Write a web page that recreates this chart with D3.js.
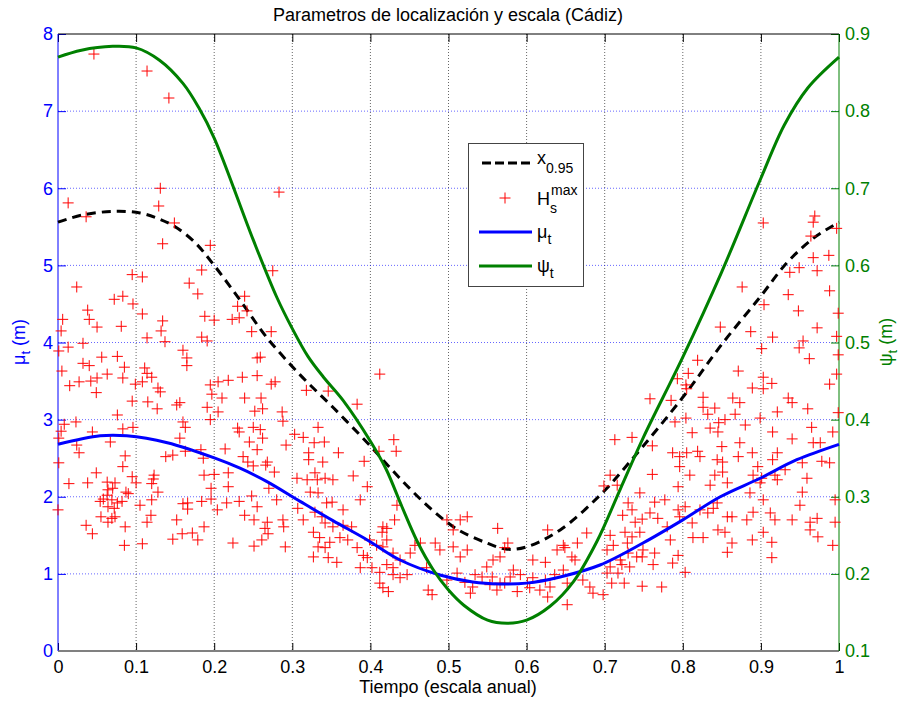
<!DOCTYPE html>
<meta charset="utf-8">
<style>
body { margin: 0; background: #fff; }
text { font-family: "Liberation Sans", Arial, sans-serif; }
</style>
<body>
<script src="https://d3js.org/d3.v7.min.js"></script>
<script>
// tick values
var xTicks = [0, 0.1, 0.2, 0.3, 0.4, 0.5, 0.6, 0.7, 0.8, 0.9, 1];
var muTicks = [0, 1, 2, 3, 4, 5, 6, 7, 8];
var psiTicks = [0.1, 0.2, 0.3, 0.4, 0.5, 0.6, 0.7, 0.8, 0.9];

// psi_t (right axis)
var psiT = [0, 0.03, 0.07, 0.10, 0.13, 0.16, 0.18, 0.20, 0.25, 0.28, 0.30, 0.32, 0.34, 0.365, 0.40, 0.42, 0.44, 0.46, 0.48, 0.50, 0.52, 0.55, 0.575, 0.60, 0.63, 0.66, 0.69, 0.72, 0.75, 0.80, 0.85, 0.90, 0.93, 0.96, 1.0];
var psiV = [0.870, 0.879, 0.884, 0.882, 0.866, 0.836, 0.805, 0.765, 0.633, 0.559, 0.518, 0.482, 0.455, 0.425, 0.372, 0.336, 0.288, 0.242, 0.206, 0.179, 0.159, 0.140, 0.136, 0.140, 0.158, 0.190, 0.242, 0.310, 0.378, 0.481, 0.592, 0.713, 0.782, 0.830, 0.870];

// x_0.95 (left axis)
var xqT = [0, 0.03, 0.07, 0.105, 0.13, 0.15, 0.175, 0.20, 0.233, 0.267, 0.31, 0.352, 0.396, 0.423, 0.451, 0.48, 0.511, 0.549, 0.575, 0.60, 0.643, 0.694, 0.732, 0.80, 0.851, 0.899, 0.933, 0.967, 1.0];
var xqV = [5.56, 5.65, 5.70, 5.68, 5.60, 5.50, 5.30, 5.00, 4.55, 4.07, 3.58, 3.16, 2.70, 2.40, 2.10, 1.82, 1.58, 1.40, 1.32, 1.35, 1.57, 2.02, 2.45, 3.29, 3.99, 4.59, 5.03, 5.35, 5.56];

// mu_t (left axis)
var muT = [0, 0.054, 0.088, 0.14, 0.201, 0.233, 0.267, 0.31, 0.352, 0.396, 0.438, 0.489, 0.531, 0.566, 0.60, 0.643, 0.694, 0.749, 0.80, 0.848, 0.899, 0.946, 1.0];
var muV = [2.68, 2.79, 2.79, 2.70, 2.50, 2.37, 2.20, 1.94, 1.69, 1.44, 1.18, 0.985, 0.895, 0.87, 0.88, 0.96, 1.115, 1.40, 1.70, 2.00, 2.24, 2.48, 2.68];

// Hs max observations [t, H]
var hsMax = [
[0.046,7.74],[0.114,7.52],[0.142,7.17],[0.013,5.81],[0.036,5.63],[0.131,6.00],[0.129,5.77],[0.149,5.55],[0.283,5.95],
[0.903,5.55],[0.969,5.64],[0.967,5.56],[0.997,5.48],[0.964,5.38],
[0.134,5.28],[0.195,5.26],[0.095,4.88],[0.108,4.85],[0.184,4.94],[0.275,4.93],[0.024,4.72],[0.168,4.77],[0.179,4.63],
[0.072,4.56],[0.083,4.60],[0.096,4.50],[0.038,4.42],[0.239,4.60],[0.230,4.47],[0.242,4.41],[0.108,4.37],[0.006,4.30],
[0.040,4.30],[0.134,4.28],[0.188,4.34],[0.200,4.29],[0.223,4.30],[0.232,4.32],[0.050,4.20],[0.004,4.15],[0.081,4.21],
[0.132,4.15],[0.114,4.06],[0.137,4.01],[0.184,4.07],[0.191,4.02],[0.248,4.14],[0.273,4.14],[0.032,3.99],[0.013,3.94],
[0.001,3.89],[0.160,3.90],[0.056,3.81],[0.076,3.82],[0.165,3.80],[0.255,3.80],[0.259,3.81],[0.032,3.73],[0.040,3.70],
[0.085,3.68],[0.165,3.70],[0.005,3.63],[0.063,3.59],[0.111,3.67],[0.114,3.60],[0.120,3.55],[0.050,3.54],[0.042,3.50],
[0.083,3.54],[0.236,3.55],[0.255,3.57],[0.278,3.49],[0.015,3.44],[0.027,3.49],[0.099,3.46],[0.108,3.49],[0.195,3.45],
[0.205,3.49],[0.218,3.51],[0.128,3.41],[0.131,3.36],[0.273,3.46],[0.049,3.35],[0.197,3.33],[0.210,3.28],[0.239,3.28],
[0.260,3.28],[0.095,3.24],[0.115,3.23],[0.156,3.22],[0.152,3.19],[0.127,3.14],[0.191,3.16],[0.262,3.14],[0.252,3.11],
[0.287,3.10],[0.076,3.06],[0.205,3.10],[0.160,2.97],[0.163,2.90],[0.195,3.00],[0.288,2.98],[0.023,2.97],[0.008,2.94],
[0.083,2.88],[0.096,2.90],[0.230,2.89],[0.232,2.84],[0.250,2.90],[0.259,2.87],[0.303,2.81],[0.044,2.84],[0.004,2.85],
[0.001,2.76],[0.156,2.76],[0.067,2.71],[0.024,2.67],[0.027,2.57],[0.245,2.71],[0.262,2.76],[0.214,2.62],[0.255,2.61],
[0.292,2.67],[0.183,2.61],[0.163,2.59],[0.138,2.52],[0.147,2.54],[0.186,2.50],[0.086,2.53],[0.237,2.52],[0.243,2.45],
[0.268,2.45],[0.001,2.44],[0.083,2.39],
[0.049,2.31],[0.014,2.17],[0.038,2.18],[0.063,2.19],[0.073,2.18],[0.064,2.09],[0.070,2.11],[0.095,2.26],[0.100,2.18],
[0.087,2.06],[0.090,2.04],[0.122,2.23],[0.123,2.28],[0.120,2.17],[0.128,2.06],[0.058,1.97],[0.063,2.02],[0.069,1.96],
[0.076,1.92],[0.082,1.94],[0.054,1.94],[0.120,1.96],[0.064,1.87],[0.072,1.85],[0.105,1.89],[0.055,1.74],[0.069,1.72],
[0.064,1.67],[0.073,1.74],[0.086,1.61],[0.036,1.63],[0.044,1.52],[0.085,1.37],[0.108,1.39],[0.119,1.76],[0.114,1.67],
[0.152,1.70],[0.160,1.91],[0.166,1.92],[0.166,1.84],[0.147,1.45],[0.159,1.52],[0.172,1.53],[0.179,1.44],[0.187,1.61],
[0.187,2.28],[0.200,2.29],[0.196,2.11],[0.184,1.94],[0.196,1.97],[0.204,1.83],[0.216,1.92],[0.218,2.13],[0.218,2.31],
[0.232,1.94],[0.248,2.01],[0.255,1.87],[0.239,1.76],[0.251,1.70],[0.251,1.36],[0.224,1.40],[0.261,1.44],[0.265,1.59],
[0.268,1.67],[0.269,1.52],[0.280,1.96],[0.270,2.11],[0.277,2.32],[0.266,2.41],[0.250,2.40],[0.288,1.70],[0.289,1.61],
[0.291,1.35],[0.306,2.24],[0.307,1.85],[0.000,1.83],
[0.412,3.59],[0.318,3.38],[0.346,3.37],[0.383,3.20],[0.333,2.90],[0.314,2.77],[0.328,2.70],[0.341,2.71],[0.430,2.74],
[0.433,2.59],[0.411,2.59],[0.321,2.57],[0.359,2.57],[0.321,2.48],[0.339,2.45],[0.392,2.46],
[0.329,2.31],[0.319,2.22],[0.332,2.22],[0.342,2.24],[0.352,2.22],[0.378,2.27],[0.396,2.13],[0.323,2.06],[0.333,2.05],
[0.344,1.92],[0.351,1.93],[0.387,1.96],[0.365,1.83],[0.329,1.80],[0.338,1.74],[0.314,1.70],[0.342,1.66],[0.352,1.61],
[0.365,1.63],[0.376,1.61],[0.434,1.89],[0.431,1.70],[0.416,1.61],[0.415,1.54],[0.421,1.59],[0.327,1.54],[0.335,1.47],
[0.348,1.41],[0.361,1.47],[0.371,1.44],[0.399,1.44],[0.408,1.37],[0.421,1.44],[0.333,1.35],[0.342,1.34],[0.327,1.22],
[0.346,1.21],[0.357,1.15],[0.383,1.34],[0.391,1.24],[0.396,1.21],[0.416,1.35],[0.429,1.27],[0.438,1.18],[0.451,1.27],
[0.457,1.37],[0.464,1.40],[0.483,1.40],[0.489,1.31],[0.506,1.35],[0.515,1.22],[0.524,1.31],[0.387,1.08],[0.402,1.08],
[0.412,1.02],[0.421,1.12],[0.429,1.08],[0.447,0.99],[0.429,0.99],[0.438,0.95],[0.412,0.88],[0.416,0.82],[0.423,0.77],
[0.474,0.79],[0.479,0.73],[0.472,1.08],[0.498,0.92],[0.511,1.01],[0.521,0.89],[0.531,0.83],[0.528,0.75],[0.543,0.96],
[0.549,1.09],[0.557,1.18],[0.566,1.22],[0.576,1.40],[0.572,1.34],[0.563,1.59],[0.515,1.70],[0.506,1.57],[0.524,1.74],
[0.498,1.70],[0.556,0.96],[0.566,0.88],[0.562,0.79],[0.579,0.96],[0.583,1.05],[0.588,0.77],[0.601,0.88],[0.608,0.95],
[0.608,1.18],[0.624,1.15],[0.617,0.79],[0.630,0.83],[0.627,0.70],[0.647,1.05],[0.652,0.88],[0.649,1.34],[0.658,1.22],
[0.665,1.40],[0.677,1.53],[0.672,0.92],[0.681,0.83],[0.685,0.75],[0.652,0.60],[0.627,1.57],[0.639,1.31],[0.647,1.37],
[0.662,1.18],[0.592,0.99],[0.604,0.82],[0.572,0.88],[0.624,0.92],[0.636,0.99],[0.553,0.86],[0.534,0.99],
[0.699,2.14],[0.716,2.15],[0.707,2.28],[0.761,2.29],[0.745,2.05],[0.730,1.92],[0.735,1.83],[0.723,1.76],[0.739,1.67],
[0.748,1.71],[0.758,1.79],[0.764,1.93],[0.777,1.96],[0.768,1.72],[0.780,1.61],[0.784,1.44],[0.745,1.54],[0.735,1.48],
[0.726,1.54],[0.707,1.50],[0.711,1.37],[0.703,1.31],[0.729,1.40],[0.730,1.27],[0.741,1.22],[0.749,1.31],[0.748,1.22],
[0.764,1.27],[0.762,1.12],[0.787,1.14],[0.794,1.24],[0.720,1.18],[0.722,1.12],[0.732,1.09],[0.707,1.09],[0.703,1.01],
[0.717,1.01],[0.709,0.88],[0.725,0.88],[0.748,0.84],[0.773,0.83],[0.698,0.73],[0.803,1.02],[0.809,2.28],[0.794,2.13],
[0.835,2.15],[0.841,2.28],[0.857,2.18],[0.851,2.32],[0.794,1.83],[0.803,1.87],[0.796,1.74],[0.812,1.66],[0.813,1.47],
[0.822,1.83],[0.832,1.79],[0.826,1.47],[0.844,1.92],[0.839,1.85],[0.845,1.57],[0.854,1.54],[0.857,1.74],[0.863,1.74],
[0.863,1.40],[0.857,1.28],[0.882,1.70],[0.889,1.44],[0.886,2.05],[0.890,2.28],[0.901,2.24],[0.896,2.39],[0.899,2.18],
[0.903,1.96],[0.890,1.80],[0.903,1.54],[0.912,1.79],[0.918,1.70],[0.914,1.41],[0.914,1.21],[0.918,2.28],[0.921,2.22],
[0.931,2.35],[0.940,1.70],[0.959,2.24],[0.953,2.06],[0.950,1.89],[0.963,1.67],[0.963,1.57],[0.972,1.72],[0.973,1.48],
[0.995,1.96],[0.992,1.37],[0.995,1.67],
[0.987,5.13],[0.967,5.10],[0.949,4.97],[0.937,4.91],[0.972,4.93],[0.876,4.72],[0.935,4.62],[0.988,4.67],[0.904,4.49],
[0.948,4.41],[0.999,4.38],[0.848,4.20],[0.887,4.14],[0.972,4.19],[0.915,4.07],[0.954,4.02],[0.997,4.08],[0.901,3.92],
[0.949,3.93],[0.962,3.79],[0.999,3.84],[0.819,3.77],[0.871,3.63],[0.807,3.60],[0.793,3.53],[0.804,3.45],[0.903,3.55],
[0.914,3.47],[0.997,3.59],[0.889,3.41],[0.903,3.40],[0.988,3.46],[0.805,3.40],[0.758,3.27],[0.785,3.25],[0.826,3.29],
[0.864,3.28],[0.873,3.22],[0.935,3.28],[0.940,3.22],[0.960,3.14],[0.826,3.16],[0.841,3.15],[0.921,3.10],[0.832,3.07],
[0.804,3.02],[0.867,3.07],[0.899,3.02],[0.790,2.97],[0.846,2.96],[0.854,3.00],[0.880,2.93],[0.999,3.09],[0.835,2.89],
[0.845,2.84],[0.915,2.84],[0.812,2.83],[0.965,2.90],[0.992,2.84],[0.713,2.74],[0.735,2.77],[0.761,2.66],[0.873,2.70],
[0.940,2.75],[0.967,2.70],[0.976,2.70],[0.850,2.65],[0.889,2.57],[0.921,2.57],[0.787,2.57],[0.796,2.52],[0.805,2.57],
[0.819,2.59],[0.822,2.52],[0.844,2.48],[0.851,2.45],[0.871,2.52],[0.915,2.48],[0.953,2.44],[0.978,2.46],[0.988,2.44],
[0.796,2.39]
];

var W = 901, H = 702;
var pLeft = 58, pRight = 839, pTop = 34, pBottom = 651;

var x = d3.scaleLinear().domain([0, 1]).range([pLeft, pRight]);
var yMu = d3.scaleLinear().domain([0, 8]).range([pBottom, pTop]);
var yPsi = d3.scaleLinear().domain([0.1, 0.9]).range([pBottom, pTop]);

var blue = "#0000ff", green = "#008000";

var svg = d3.select("body").append("svg")
    .attr("width", W)
    .attr("height", H);

svg.append("rect").attr("width", W).attr("height", H).attr("fill", "#fff");

// grid
svg.append("g").selectAll("line")
    .data(xTicks.slice(1, -1))
    .enter().append("line")
    .attr("x1", d => x(d)).attr("x2", d => x(d))
    .attr("y1", pTop).attr("y2", pBottom)
    .attr("stroke", "#000").attr("stroke-opacity", 0.6)
    .attr("stroke-dasharray", "1,2");

svg.append("g").selectAll("line")
    .data(muTicks.slice(1, -1))
    .enter().append("line")
    .attr("x1", pLeft).attr("x2", pRight)
    .attr("y1", d => yMu(d)).attr("y2", d => yMu(d))
    .attr("stroke", blue).attr("stroke-opacity", 0.6)
    .attr("stroke-dasharray", "1,2");

var fmt = d => String(+d.toFixed(1));

// axes
var xAxis = svg.append("g")
    .attr("transform", "translate(0," + pBottom + ")")
    .call(d3.axisBottom(x).tickValues(xTicks).tickSize(-8).tickPadding(9).tickFormat(fmt));
xAxis.select(".domain").remove();
xAxis.selectAll("line").attr("stroke", "#000");
xAxis.selectAll("text").attr("fill", "#000").style("font-size", "18px");

var xTop = svg.append("g")
    .attr("transform", "translate(0," + pTop + ")")
    .call(d3.axisTop(x).tickValues(xTicks).tickSize(-8).tickFormat(""));
xTop.select(".domain").remove();
xTop.selectAll("line").attr("stroke", "#000");

var yLeft = svg.append("g")
    .attr("transform", "translate(" + pLeft + ",0)")
    .call(d3.axisLeft(yMu).tickValues(muTicks).tickSize(-8).tickPadding(5).tickFormat(fmt));
yLeft.select(".domain").remove();
yLeft.selectAll("line").attr("stroke", blue);
yLeft.selectAll("text").attr("fill", blue).style("font-size", "18px");

var yRight = svg.append("g")
    .attr("transform", "translate(" + pRight + ",0)")
    .call(d3.axisRight(yPsi).tickValues(psiTicks).tickSize(-8).tickPadding(6).tickFormat(fmt));
yRight.select(".domain").remove();
yRight.selectAll("line").attr("stroke", green);
yRight.selectAll("text").attr("fill", green).style("font-size", "18px");

// frame
svg.append("line").attr("x1", pLeft).attr("x2", pRight).attr("y1", pTop).attr("y2", pTop).attr("stroke", "#000");
svg.append("line").attr("x1", pLeft).attr("x2", pRight).attr("y1", pBottom).attr("y2", pBottom).attr("stroke", "#808080").attr("stroke-width", 2);
svg.append("line").attr("x1", pLeft).attr("x2", pLeft).attr("y1", pTop).attr("y2", pBottom).attr("stroke", blue);
svg.append("line").attr("x1", pRight).attr("x2", pRight).attr("y1", pTop).attr("y2", pBottom).attr("stroke", green);

// curves
var lineMu = d3.line().x(d => x(d[0])).y(d => yMu(d[1])).curve(d3.curveCatmullRom.alpha(0.5));
var linePsi = d3.line().x(d => x(d[0])).y(d => yPsi(d[1])).curve(d3.curveCatmullRom.alpha(0.5));

svg.append("path")
    .attr("d", lineMu(d3.zip(xqT, xqV)))
    .attr("fill", "none").attr("stroke", "#000").attr("stroke-width", 3)
    .attr("stroke-dasharray", "9,6");

svg.append("g").selectAll("path")
    .data(hsMax)
    .enter().append("path")
    .attr("transform", d => "translate(" + x(d[0]) + "," + yMu(d[1]) + ")")
    .attr("d", "M-5.5,0H5.5M0,-5.5V5.5")
    .attr("stroke", "#ff0000").attr("stroke-width", 1).attr("fill", "none");

svg.append("path")
    .attr("d", lineMu(d3.zip(muT, muV)))
    .attr("fill", "none").attr("stroke", blue).attr("stroke-width", 3);

svg.append("path")
    .attr("d", linePsi(d3.zip(psiT, psiV)))
    .attr("fill", "none").attr("stroke", green).attr("stroke-width", 3);

// legend
var lg = svg.append("g");
lg.append("rect").attr("x", 468.5).attr("y", 143.5).attr("width", 115).attr("height", 143)
    .attr("fill", "#fff").attr("stroke", "#444");
lg.append("line").attr("x1", 482).attr("x2", 530).attr("y1", 163).attr("y2", 163)
    .attr("stroke", "#000").attr("stroke-width", 3).attr("stroke-dasharray", "9,4");
lg.append("path").attr("transform", "translate(505,198)").attr("d", "M-5.5,0H5.5M0,-5.5V5.5")
    .attr("stroke", "#ff0000").attr("fill", "none");
lg.append("line").attr("x1", 479).attr("x2", 532).attr("y1", 232).attr("y2", 232)
    .attr("stroke", blue).attr("stroke-width", 3);
lg.append("line").attr("x1", 479).attr("x2", 532).attr("y1", 266).attr("y2", 266)
    .attr("stroke", green).attr("stroke-width", 3);

var t1 = lg.append("text").attr("x", 537).attr("y", 164).style("font-size", "18px");
t1.append("tspan").text("x");
t1.append("tspan").attr("dy", 9).style("font-size", "14px").text("0.95");

lg.append("text").attr("x", 537).attr("y", 205).style("font-size", "18px").text("H");
lg.append("text").attr("x", 550).attr("y", 213).style("font-size", "14px").text("s");
lg.append("text").attr("x", 551).attr("y", 195).style("font-size", "14px").text("max");

var t3 = lg.append("text").attr("x", 537).attr("y", 238).style("font-size", "18px");
t3.append("tspan").text("μ");
t3.append("tspan").attr("dy", 6).style("font-size", "14px").text("t");

var t4 = lg.append("text").attr("x", 537).attr("y", 272).style("font-size", "18px");
t4.append("tspan").text("ψ");
t4.append("tspan").attr("dy", 6).style("font-size", "14px").text("t");

// titles
svg.append("text").attr("x", 448).attr("y", 21).attr("text-anchor", "middle")
    .style("font-size", "18px").text("Parametros de localización y escala (Cádiz)");
svg.append("text").attr("x", 448).attr("y", 693).attr("text-anchor", "middle")
    .style("font-size", "18px").text("Tiempo (escala anual)");

var yl = svg.append("text").attr("transform", "translate(25,342) rotate(-90)")
    .attr("text-anchor", "middle").attr("fill", blue).style("font-size", "18px");
yl.append("tspan").text("μ");
yl.append("tspan").attr("dy", 5).style("font-size", "13px").text("t");
yl.append("tspan").attr("dy", -5).text(" (m)");

var yr = svg.append("text").attr("transform", "translate(892,342) rotate(-90)")
    .attr("text-anchor", "middle").attr("fill", green).style("font-size", "18px");
yr.append("tspan").text("ψ");
yr.append("tspan").attr("dy", 5).style("font-size", "13px").text("t");
yr.append("tspan").attr("dy", -5).text(" (m)");
</script>
</body>
